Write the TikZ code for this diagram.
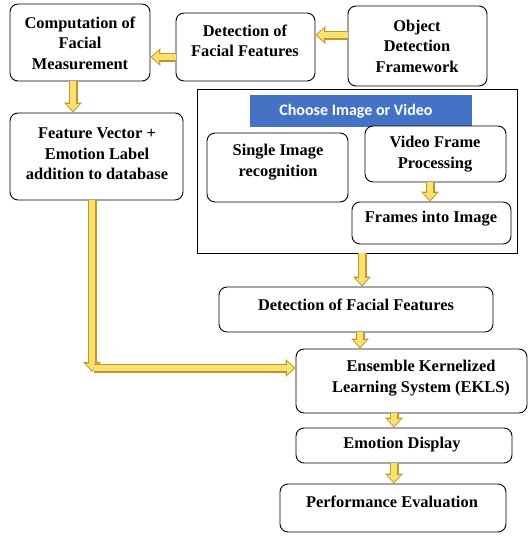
\documentclass[tikz,border=0pt]{standalone}
\usepackage{fontspec}
\setmainfont{Liberation Serif}
\newfontfamily\bannerfont{Carlito}
\usetikzlibrary{arrows.meta,fit}
\definecolor{goldin}{RGB}{248,224,115}
\definecolor{goldout}{RGB}{196,150,30}
\definecolor{bannerblue}{RGB}{68,114,196}
\begin{document}
\begin{tikzpicture}[x=1pt,y=-1pt,
  box/.style={draw, rounded corners=8pt, line width=0.9pt, inner sep=0pt},
  txt/.style={font=\fontsize{16.4}{20.5}\selectfont\bfseries, align=center, inner sep=0pt},
  garrow/.style={draw=goldin, line width=6pt, shorten >=1.5pt,
    -{Triangle[width=13pt,length=7pt,line width=0pt]},
    preaction={draw=goldout, line width=9pt, shorten >=0pt,
      -{Triangle[width=18pt,length=10pt,line width=0pt]}}}]
\useasboundingbox (0,0) rectangle (529,536);
% boxes
\node[box, fit={(10,4) (150,81)}] (comp) {};
\node[box, fit={(176,13) (315,81)}] (det1) {};
\node[box, fit={(348,6) (487,86)}] (obj) {};
\node[box, fit={(10,113) (183,200)}] (fv) {};
\node[draw, line width=0.9pt, inner sep=0pt, fit={(197,89) (517,253)}] (frame) {};
\node[fill=bannerblue, inner sep=0pt, fit={(250,95) (472,127)}] (banner) {};
\node[box, fit={(207,133) (348,202)}] (single) {};
\node[box, fill=white, fit={(365,126) (506,182)}] (vfp) {};
\node[box, fit={(352,202) (511,244)}] (fii) {};
\node[box, fit={(219,287) (493,332)}] (det2) {};
\node[box, fit={(296,349) (527,413)}] (ekls) {};
\node[box, fit={(296,428) (512,463)}] (disp) {};
\node[box, fit={(280,484) (506,532)}] (perf) {};
% texts
\node[txt] (tcomp) at (80,43) {Computation of\\Facial\\Measurement};
\node[txt] (tdet1) at (245,41) {Detection of\\Facial Features};
\node[txt] (tobj) at (417,46) {Object\\Detection\\Framework};
\node[txt] (tfv) at (97,154) {Feature Vector +\\Emotion Label\\addition to database};
\node[font=\bannerfont\fontsize{16}{18}\selectfont\bfseries, text=white, inner sep=0pt] (tban) at (356,111) {Choose Image or Video};
\node[txt] (tsingle) at (278,162) {Single Image\\recognition};
\node[txt] (tvfp) at (435,154) {Video Frame\\Processing};
\node[txt] (tfii) at (431,219) {Frames into Image};
\node[txt] (tdet2) at (356,305) {Detection of Facial Features};
\node[txt] (tekls) at (421,378) {Ensemble Kernelized\\Learning System (EKLS)};
\node[txt] (tdisp) at (402,445) {Emotion Display};
\node[txt] (tperf) at (392,502) {Performance Evaluation};
% helper coordinates
\coordinate (y35) at (0,35);
\coordinate (y57) at (0,57);
\coordinate (x73) at (73,0);
\coordinate (x430) at (430,0);
\coordinate (x362) at (362,0);
\coordinate (x360) at (360,0);
\coordinate (x394) at (394,0);
\coordinate (corner) at (92,372);
\coordinate (hstart) at (94,368);
% arrows
\draw[garrow] (obj.west |- y35) -- (det1.east |- y35);
\draw[garrow] (det1.west |- y57) -- (comp.east |- y57);
\draw[garrow] (comp.south -| x73) -- (fv.north -| x73);
\draw[garrow] (vfp.south -| x430) -- (fii.north -| x430);
\draw[garrow] (frame.south -| x362) -- (det2.north -| x362);
\draw[garrow] (det2.south -| x360) -- (ekls.north -| x360);
\draw[garrow] (ekls.south -| x394) -- (disp.north -| x394);
\draw[garrow] (disp.south -| x394) -- (perf.north -| x394);
\draw[garrow] (fv.south -| corner) -- (corner);
\draw[garrow] (hstart) -- (ekls.west |- hstart);
\end{tikzpicture}
\end{document}
